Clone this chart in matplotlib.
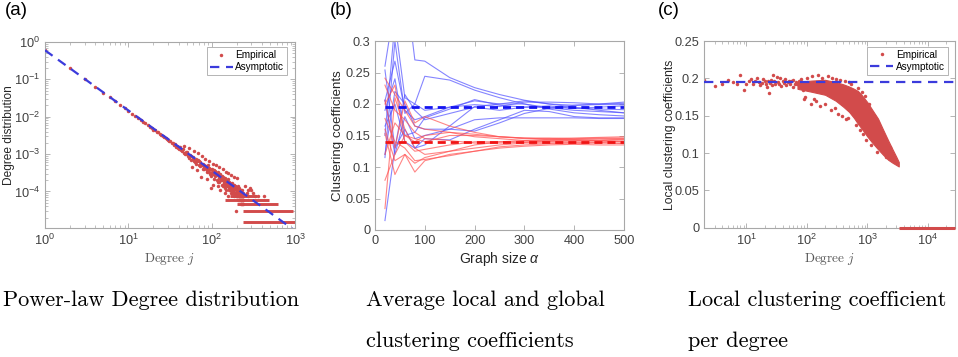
import numpy as np
import matplotlib
matplotlib.use("Agg")
import matplotlib.pyplot as plt
from matplotlib.ticker import LogLocator, NullFormatter, FixedLocator, FuncFormatter

plt.rcParams["font.family"] = ["Liberation Sans", "DejaVu Sans"]
plt.rcParams["mathtext.fontset"] = "custom"
plt.rcParams["mathtext.rm"] = "Liberation Sans"
plt.rcParams["mathtext.it"] = "Liberation Sans:italic"
plt.rcParams["mathtext.bf"] = "Liberation Sans:bold"

# ---------------- (a) degree distribution ----------------
n_nodes = 66000
# node counts for degree j = 1, 2, 3, ...
cnt_a = [39600, 12900, 6550, 4120, 2860, 2200, 1690, 1380, 1120, 955,
         800, 705, 605, 545, 470, 438, 385, 350, 330, 296,
         288, 258, 250, 226, 218, 196, 192, 176, 172, 158,
         150, 146, 130, 131, 118, 120, 104, 108, 95, 104,
         92, 99, 84, 80, 90, 72, 110, 66, 75, 68,
         74, 58, 95, 52, 63, 60, 47, 30, 49, 55,
         44, 82, 40, 50, 36, 24, 42, 70, 46, 34,
         42, 31, 40, 35, 16, 60, 33, 27, 36, 30,
         34, 26, 30, 48, 31, 28, 22, 14, 25, 33,
         24, 42, 28, 22, 26, 19, 8, 21, 17, 27,
         20, 24, 10, 36, 19, 25, 14, 21, 18, 23,
         17, 21, 33, 19, 13, 20, 18, 9, 22, 12,
         15, 29, 12, 17, 14, 19, 7, 16, 13, 15,
         13, 17, 10, 15, 26, 14, 9, 16, 11, 13,
         12, 9, 6, 11, 15, 8, 22, 10, 12, 7,
         11, 13, 9, 12, 5, 10, 14, 20, 11, 7,
         10, 8, 12, 9, 7, 11, 8, 10, 6, 9,
         8, 18, 7, 9, 11, 6, 8, 9, 7, 10,
         7, 9, 6, 8, 10, 16, 5, 8, 9, 6,
         8, 6, 9, 7, 5, 8, 6, 2, 15, 5,
         7, 6, 8, 5, 7, 6, 4, 9, 6, 5,
         7, 4, 6, 8, 5, 6, 4, 7, 5, 6,
         5, 7, 4, 6, 5, 3, 6, 4, 5, 7,
         4, 5, 3, 6, 4, 5, 3, 4, 6, 5]
# rows of equal counts for the high degrees (count, first j, last j)
band_cnt = [1, 2, 3, 4, 5]
band_from = [238, 240, 200, 145, 165]
band_to = [1000, 950, 620, 490, 350]
extra_deg = [250, 262, 270, 275, 285, 300, 310, 330, 355, 430]
extra_cnt = [9, 6, 7, 5, 8, 7, 6, 5, 5, 5]
asym_deg = [1, 1000]
asym_val = [0.6, 8.9e-6]

# ---------------- (b) clustering vs graph size ----------------
size_b = [20, 40, 60, 80, 100, 150, 200, 250, 300, 350, 400, 450, 500]
blue_runs = [
    [0.260, 0.360, 0.400, 0.270, 0.268, 0.242, 0.226, 0.215, 0.206, 0.200, 0.195, 0.190, 0.186],
    [0.150, 0.330, 0.210, 0.200, 0.244, 0.238, 0.222, 0.210, 0.200, 0.192, 0.186, 0.183, 0.181],
    [0.205, 0.268, 0.190, 0.175, 0.180, 0.195, 0.205, 0.200, 0.205, 0.200, 0.198, 0.200, 0.201],
    [0.254, 0.130, 0.215, 0.190, 0.175, 0.185, 0.195, 0.190, 0.195, 0.197, 0.193, 0.195, 0.197],
    [0.120, 0.220, 0.200, 0.165, 0.160, 0.160, 0.157, 0.170, 0.185, 0.193, 0.198, 0.199, 0.199],
    [0.015, 0.130, 0.160, 0.130, 0.145, 0.143, 0.160, 0.175, 0.190, 0.188, 0.180, 0.178, 0.178],
    [0.206, 0.120, 0.180, 0.145, 0.150, 0.160, 0.175, 0.178, 0.178, 0.178, 0.178, 0.177, 0.177],
    [0.165, 0.200, 0.140, 0.130, 0.135, 0.165, 0.196, 0.200, 0.200, 0.194, 0.190, 0.188, 0.186],
    [0.190, 0.240, 0.150, 0.155, 0.178, 0.192, 0.207, 0.198, 0.195, 0.195, 0.193, 0.192, 0.191],
    [0.115, 0.300, 0.185, 0.200, 0.190, 0.195, 0.199, 0.196, 0.203, 0.203, 0.202, 0.200, 0.203],
]
red_runs = [
    [0.241, 0.215, 0.190, 0.165, 0.160, 0.155, 0.148, 0.145, 0.142, 0.142, 0.143, 0.142, 0.140],
    [0.206, 0.130, 0.205, 0.170, 0.180, 0.165, 0.155, 0.148, 0.145, 0.145, 0.146, 0.147, 0.148],
    [0.079, 0.120, 0.150, 0.145, 0.140, 0.150, 0.150, 0.148, 0.146, 0.146, 0.145, 0.146, 0.146],
    [0.034, 0.210, 0.160, 0.130, 0.120, 0.125, 0.130, 0.135, 0.138, 0.138, 0.139, 0.140, 0.141],
    [0.153, 0.088, 0.120, 0.092, 0.110, 0.120, 0.125, 0.130, 0.133, 0.135, 0.136, 0.135, 0.135],
    [0.177, 0.140, 0.130, 0.110, 0.112, 0.118, 0.125, 0.132, 0.135, 0.137, 0.137, 0.138, 0.138],
    [0.160, 0.110, 0.120, 0.106, 0.115, 0.125, 0.135, 0.140, 0.142, 0.144, 0.144, 0.145, 0.145],
    [0.200, 0.230, 0.140, 0.125, 0.128, 0.135, 0.140, 0.140, 0.140, 0.141, 0.142, 0.142, 0.143],
    [0.120, 0.170, 0.150, 0.140, 0.150, 0.155, 0.152, 0.148, 0.146, 0.144, 0.143, 0.143, 0.144],
    [0.230, 0.190, 0.175, 0.155, 0.145, 0.142, 0.138, 0.138, 0.139, 0.140, 0.140, 0.139, 0.137],
]
blue_level = 0.196
red_level = 0.140

# ---------------- (c) local clustering per degree ----------------
small_j = [2, 3, 4, 5, 6, 7, 8, 9, 10, 11, 12, 13, 14, 15, 16, 17, 18, 19, 20,
           21, 22, 23, 24, 25, 26, 27, 28, 29, 30, 32, 33, 35, 36, 38, 40, 42,
           44, 46, 48, 50, 52, 55, 58, 60, 63, 66, 70, 74]
small_v = [0.198, 0.190, 0.192, 0.198, 0.195, 0.193, 0.204, 0.185, 0.193, 0.196,
           0.199, 0.192, 0.197, 0.201, 0.195, 0.191, 0.194, 0.199, 0.196, 0.193,
           0.189, 0.197, 0.181, 0.194, 0.198, 0.191, 0.205, 0.196, 0.192, 0.202,
           0.195, 0.193, 0.200, 0.190, 0.196, 0.194, 0.199, 0.191, 0.195, 0.197,
           0.193, 0.196, 0.189, 0.198, 0.192, 0.195, 0.193, 0.197]
out_j = [80, 85, 90, 94, 100, 108, 115, 120, 130, 140, 150, 165, 180, 200, 220,
         250, 260, 290, 300, 330, 350, 380, 420, 450, 480, 500, 540, 570, 600,
         650, 700, 750, 800, 850, 900, 950, 1050, 1150, 1300, 1450, 1700, 2000, 2400]
out_v = [0.199, 0.185, 0.172, 0.1755, 0.201, 0.190, 0.166, 0.203, 0.173, 0.170,
         0.204, 0.163, 0.200, 0.166, 0.203, 0.158, 0.201, 0.160, 0.199, 0.152,
         0.198, 0.150, 0.197, 0.145, 0.1465, 0.195, 0.192, 0.152, 0.158, 0.138,
         0.187, 0.131, 0.182, 0.126, 0.176, 0.118, 0.165, 0.111, 0.150, 0.101,
         0.128, 0.095, 0.108]
# dense part of the cloud: upper and lower edge
cloud_j = [70, 120, 200, 300, 400, 500, 600, 700, 800, 1000, 1200, 1500, 1800,
           2200, 2600, 3000, 3300]
cloud_hi = [0.195, 0.197, 0.198, 0.195, 0.192, 0.189, 0.186, 0.183, 0.178, 0.168,
            0.158, 0.146, 0.132, 0.117, 0.105, 0.095, 0.088]
cloud_lo = [0.186, 0.182, 0.178, 0.170, 0.162, 0.155, 0.147, 0.139, 0.133, 0.122,
            0.114, 0.105, 0.098, 0.091, 0.087, 0.084, 0.082]
zero_from, zero_to = 3300, 28000
asym_c = 0.195

RED = "#d24b4b"
BLUE = "#3b3bdc"
SPINE = "#a8a8a8"
TXT = "#404040"


def style(ax):
    for s in ax.spines.values():
        s.set_color(SPINE)
        s.set_linewidth(0.8)
    ax.tick_params(which="both", direction="in", top=True, right=True,
                   color=SPINE, labelcolor=TXT, labelsize=9.2)
    ax.tick_params(which="major", length=3.5, width=0.6)
    ax.tick_params(which="minor", length=2, width=0.5)


def legend(ax, anchor):
    lg = ax.legend(loc="upper right", bbox_to_anchor=anchor, fontsize=7.2,
                   handlelength=2.3, handletextpad=0.25, borderpad=0.3,
                   labelspacing=0.2, borderaxespad=0, fancybox=False,
                   framealpha=1, numpoints=1)
    lg.get_frame().set_edgecolor(SPINE)
    lg.get_frame().set_linewidth(0.6)


fig = plt.figure(figsize=(9.58, 3.57), dpi=100)
W, H = 958.0, 357.0

# (a)
ax1 = fig.add_axes([45 / W, 1 - 228 / H, 250 / W, 186 / H])
deg_a = np.arange(1, len(cnt_a) + 1)
ax1.plot(deg_a, np.array(cnt_a) / n_nodes, ls="none", marker="o", ms=2.5,
         mew=0, color=RED, label="Empirical", zorder=2)
ax1.hlines(np.array(band_cnt) / n_nodes, band_from, band_to, colors=RED,
           lw=2.1, zorder=2)
ax1.plot(extra_deg, np.array(extra_cnt) / n_nodes, ls="none", marker="o",
         ms=2.5, mew=0, color=RED, zorder=2)
ax1.plot(asym_deg, asym_val, color=BLUE, lw=1.6, dashes=(4.2, 3),
         label="Asymptotic", zorder=3)
ax1.set_xscale("log")
ax1.set_yscale("log")
ax1.set_xlim(1, 1000)
ax1.set_ylim(1.05e-5, 1.0)
ax1.yaxis.set_major_locator(FixedLocator([1e-4, 1e-3, 1e-2, 1e-1, 1]))
ax1.yaxis.set_minor_locator(LogLocator(base=10, subs=np.arange(2, 10) * 1.0, numticks=20))
ax1.yaxis.set_minor_formatter(NullFormatter())
ax1.xaxis.set_minor_locator(LogLocator(base=10, subs=np.arange(2, 10) * 1.0, numticks=20))
ax1.xaxis.set_minor_formatter(NullFormatter())
style(ax1)
ax1.set_ylabel("Degree distribution", fontsize=8.6, color="#262626", labelpad=-1)
ax1.set_xlabel(r"Degree $j$", fontsize=9.5, color="#555555", labelpad=2,
               fontfamily="cmr10", math_fontfamily="cm")
legend(ax1, (0.968, 0.973))

# (b)
ax2 = fig.add_axes([375 / W, 1 - 230 / H, 249 / W, 189 / H])
for run in blue_runs:
    ax2.plot(size_b, run, color="#5252ff", lw=0.8, alpha=0.7)
for run in red_runs:
    ax2.plot(size_b, run, color="#ff5252", lw=0.8, alpha=0.7)
ax2.plot([size_b[0], size_b[-1]], [blue_level, blue_level], color="#1414f0",
         lw=2.0, dashes=(2.9, 1.8))
ax2.plot([size_b[0], size_b[-1]], [red_level, red_level], color="#f01414",
         lw=2.0, dashes=(2.9, 1.8))
ax2.set_xlim(0, 500)
ax2.set_ylim(0, 0.3)
ax2.set_xticks([0, 100, 200, 300, 400, 500])
ax2.set_yticks([0, 0.05, 0.1, 0.15, 0.2, 0.25, 0.3])
ax2.yaxis.set_major_formatter(FuncFormatter(lambda v, p: "%g" % v))
style(ax2)
ax2.set_ylabel("Clustering coefficients", fontsize=9.6, color="#262626", labelpad=1)
ax2.set_xlabel(r"Graph size $\alpha$", fontsize=10, color="#262626", labelpad=2)

# (c)
ax3 = fig.add_axes([704 / W, 1 - 227.7 / H, 251 / W, 186.7 / H])
ax3.fill_between(cloud_j, cloud_lo, cloud_hi, color=RED, lw=0.8, edgecolor=RED,
                 zorder=2)
ax3.plot(small_j, small_v, ls="none", marker="o", ms=2.5, mew=0, color=RED,
         label="Empirical", zorder=2)
ax3.plot(out_j, out_v, ls="none", marker="o", ms=2.5, mew=0, color=RED, zorder=2)
ax3.hlines(0, zero_from, zero_to, colors=RED, lw=2.2, clip_on=False, zorder=4)
ax3.plot([2, zero_to], [asym_c, asym_c], color=BLUE, lw=1.6, dashes=(4.2, 3),
         label="Asymptotic", zorder=3)
ax3.set_xscale("log")
ax3.set_xlim(2, zero_to)
ax3.set_ylim(0, 0.25)
ax3.set_yticks([0, 0.05, 0.1, 0.15, 0.2, 0.25])
ax3.yaxis.set_major_formatter(FuncFormatter(lambda v, p: "%g" % v))
ax3.xaxis.set_major_locator(FixedLocator([10, 100, 1000, 10000]))
ax3.xaxis.set_minor_locator(LogLocator(base=10, subs=np.arange(2, 10) * 1.0, numticks=20))
ax3.xaxis.set_minor_formatter(NullFormatter())
style(ax3)
ax3.set_ylabel("Local clustering coefficients", fontsize=8.8, color="#262626", labelpad=-1)
ax3.set_xlabel(r"Degree $j$", fontsize=9.5, color="#555555", labelpad=2,
               fontfamily="cmr10", math_fontfamily="cm")
legend(ax3, (0.972, 0.968))

# panel letters
for x, s in [(5, "(a)"), (330, "(b)"), (658, "(c)")]:
    fig.text(x / W, 1 - 2 / H, s, fontsize=13.5, va="top", ha="left")

# captions
captions = [(3, 300, "Power-law Degree distribution"),
            (366, 300, "Average local and global"),
            (366, 341, "clustering coefficients"),
            (688, 300, "Local clustering coefficient"),
            (688, 341, "per degree")]
for x, y, s in captions:
    fig.text(x / W, 1 - y / H, s, fontsize=16, fontfamily="cmr10",
             va="center", ha="left")

fig.savefig("out.png", dpi=100)
